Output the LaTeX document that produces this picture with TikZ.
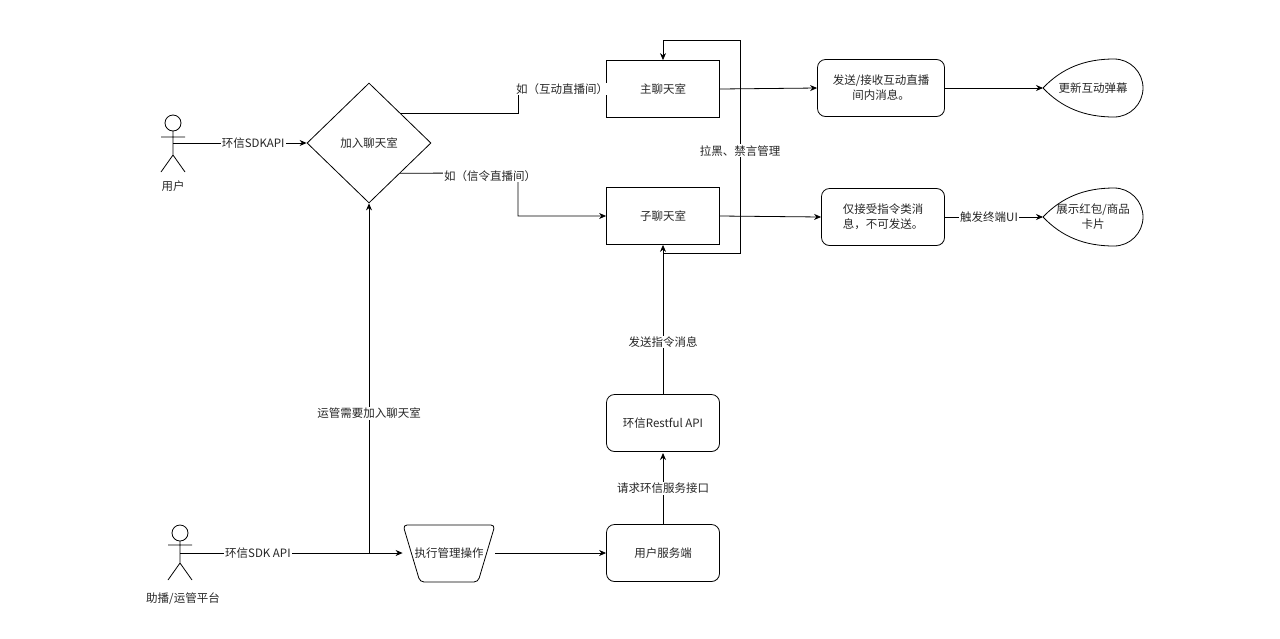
\documentclass[tikz,border=0pt]{standalone}
\usepackage{fontspec}
\setmainfont{Noto Sans CJK SC}
\usetikzlibrary{shapes.geometric,arrows.meta}
\begin{document}
\begin{tikzpicture}[x=1pt,y=-1pt,
  every node/.style={font=\fontsize{11.5}{15}\selectfont,text=black!85},
  box/.style={draw,minimum width=113pt,minimum height=57pt,inner sep=0pt,align=center},
  rbox/.style={box,rounded corners=8pt},
  lbl/.style={fill=white,inner sep=1pt},
  arr/.style={draw,line width=0.8pt,-{Stealth[length=7pt,width=6pt]}},
  ln/.style={draw,line width=0.8pt},
  line width=0.8pt]
\useasboundingbox (0,0) rectangle (1280,638);
% actors
\draw (173,123) circle (8);
\draw (173,131)--(173,155) (161,137)--(185,137) (173,155)--(161,172) (173,155)--(185,172);
\coordinate (u) at (173,143);
\node (ul) at (173,186) {用户};
\draw (180,533) circle (8);
\draw (180,541)--(180,563) (168,545)--(192,545) (180,563)--(168,580) (180,563)--(192,580);
\coordinate (op) at (180,553);
\node (opl) at (183,599) {助播/运管平台};
% diamond
\node[diamond,draw,minimum width=124pt,minimum height=120pt,inner sep=0pt,aspect=1.03] (d) at (369,143) {加入聊天室};
\node[box] (main) at (663,89) {主聊天室};
\node[box] (sub) at (663,216) {子聊天室};
\node[rbox] (rest) at (663,423) {环信Restful API};
\node[rbox] (srv) at (663,553) {用户服务端};
\node[rbox,minimum width=127pt] (b1) at (881,88) {发送/接收互动直播\\间内消息。};
\node[rbox,minimum width=123pt] (b2) at (883,217) {仅接受指令类消\\息，不可发送。};
% trapezoid
\draw[rounded corners=4pt] (403,525)--(495,525)--(478,582)--(420,582)--cycle;
\node[minimum width=92pt,minimum height=57pt,inner sep=0pt] (tr) at (449,553) {执行管理操作};
% drops
\draw (1043,88) .. controls (1062,68) and (1085,59) .. (1114,59) .. controls (1130,59) and (1143,72) .. (1143,88) .. controls (1143,104) and (1130,117) .. (1114,117) .. controls (1085,117) and (1062,108) .. (1043,88);
\node[minimum width=100pt,minimum height=58pt,inner sep=0pt] (e1) at (1093,88) {更新互动弹幕};
\draw (1043,217) .. controls (1062,197) and (1085,188) .. (1114,188) .. controls (1130,188) and (1143,201) .. (1143,217) .. controls (1143,233) and (1130,246) .. (1114,246) .. controls (1085,246) and (1062,237) .. (1043,217);
\node[minimum width=100pt,minimum height=58pt,inner sep=0pt,align=center] (e2) at (1093,217) {展示红包/商品\\卡片};
% connectors
\path[arr] (u) -- node[lbl,pos=0.6]{环信SDKAPI} (d.west);
\path[arr] (op) -- node[lbl,pos=0.35]{环信SDK API} (tr.west);
\path[arr] (369,553) -- node[lbl,pos=0.4]{运管需要加入聊天室} (d.south);
\path[arr] (tr.east) -- (srv.west);
\path[arr] (d.north east) ++(0,0) |- (518,113) |- node[lbl,pos=0.75]{如（互动直播间）} (main.west);
\path[arr] (d.south east) -- (518,173) |- (sub.west);
\node[lbl] (l2) at (490,176) {如（信令直播间）};
\path[arr] (srv.north) -- node[lbl]{请求环信服务接口} (rest.north |- 0,453);
\path[arr] (rest.north) -- node[lbl,pos=0.35]{发送指令消息} (sub.south);
\path[arr] (663,253) -- (740,253) -- node[lbl,pos=0.48]{拉黑、禁言管理} (740,40) -- (663,40) -- (main.north);
\path[arr] (main.east) -- (b1.west);
\path[arr] (sub.east) -- (b2.west);
\path[arr] (b1.east) -- (1043,88);
\path[arr] (b2.east) -- node[lbl,pos=0.45]{触发终端UI} (1043,217);
\end{tikzpicture}
\end{document}
